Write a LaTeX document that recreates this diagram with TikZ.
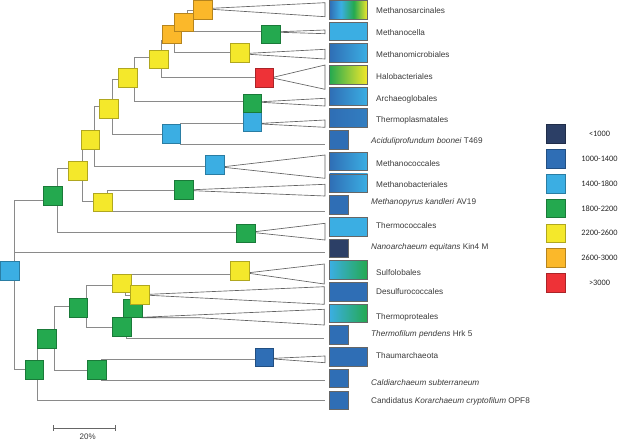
\documentclass[tikz,border=0pt]{standalone}
\usepackage{fontspec}
\setmainfont{Liberation Sans}
\newfontfamily\legfont{Carlito}
\definecolor{cNavy}{HTML}{2C3F66}
\definecolor{cBlue}{HTML}{2F6EB5}
\definecolor{cLight}{HTML}{3BAEE3}
\definecolor{cGreen}{HTML}{24A94F}
\definecolor{cYellow}{HTML}{F4E82B}
\definecolor{cOrange}{HTML}{FBB82A}
\definecolor{cRed}{HTML}{EE3237}
\definecolor{lineg}{HTML}{8A8A8A}
\definecolor{trig}{HTML}{626262}
\definecolor{txtc}{HTML}{3A3A3A}
\pgfdeclarehorizontalshading{sarcshade}{100bp}{color(0bp)=(cBlue); color(25bp)=(cBlue); color(40bp)=(cLight); color(57bp)=(cGreen); color(75bp)=(cYellow); color(100bp)=(cYellow)}
\begin{document}
\begin{tikzpicture}[x=1pt,y=-1pt,
  tl/.style={draw=lineg, line width=0.75pt},
  tri/.style={draw=trig, line width=0.65pt, fill=white, line join=miter},
  sq/.style={draw=#1!72!black, fill=#1, line width=0.6pt, minimum size=18.6pt, inner sep=0pt, outer sep=0pt, rectangle},
  barfull/.style={draw=black!60, line width=0.5pt, minimum height=18.6pt, minimum width=38pt, inner sep=0pt, outer sep=0pt, anchor=west, rectangle},
  barhalf/.style={draw=black!60, line width=0.5pt, minimum height=18.6pt, minimum width=19pt, inner sep=0pt, outer sep=0pt, anchor=west, rectangle},
  lab/.style={anchor=base west, inner sep=0pt, font=\fontsize{8.2}{9}\selectfont, text=txtc},
  leg/.style={anchor=center, inner sep=0pt, font=\legfont\fontsize{8.3}{9}\selectfont, text=black!85}]
\useasboundingbox (0,0) rectangle (626,442);
% ---------- tree points ----------
\coordinate (pRoot) at (14.3,270.5);
\coordinate (pG1) at (57.7,200.3);
\coordinate (pY5) at (82.7,168.3);
\coordinate (pY4) at (94.3,140);
\coordinate (pY6) at (107.3,201);
\coordinate (pY3) at (112.7,106.7);
\coordinate (pY2) at (134.3,79);
\coordinate (pB1) at (180,134);
\coordinate (pY1) at (161.7,57.3);
\coordinate (pO3) at (174.3,40);
\coordinate (pO2) at (187.7,22);
\coordinate (pO1) at (202.5,10);
\coordinate (pCella) at (271,31.7);
\coordinate (pMicro) at (239.5,52.7);
\coordinate (pHalo) at (264.3,77.7);
\coordinate (pArch) at (252.2,101.7);
\coordinate (pTpl) at (252.2,123.3);
\coordinate (lAcid) at (325,144);
\coordinate (pCocc) at (214.8,166.7);
\coordinate (pBact) at (183.8,190.7);
\coordinate (lPyrus) at (325,211);
\coordinate (pTcoc) at (245.8,232.3);
\coordinate (lNano) at (325,252.7);
\coordinate (pG4) at (37.7,369.3);
\coordinate (pG5) at (54.3,338.7);
\coordinate (lKor) at (325,400.3);
\coordinate (pG7) at (86.7,306);
\coordinate (pG6) at (101,370);
\coordinate (pThaum) at (264.3,359);
\coordinate (lCald) at (325,380);
\coordinate (pY7) at (125.7,285);
\coordinate (pG8) at (126.7,327.7);
\coordinate (pSulfo) at (239.5,274);
\coordinate (pDesul) at (140,295);
\coordinate (pProt) at (132.5,317.3);
\coordinate (lTfil) at (324.3,338.3);
% ---------- branches ----------
\draw[tl] (pRoot) |- (pG1);
\draw[tl] (pRoot) |- (lNano);
\draw[tl] (pRoot) |- (pG4);
\draw[tl] (pG1) |- (pY5);
\draw[tl] (pG1) |- (pTcoc);
\draw[tl] (pY5) |- (pY4);
\draw[tl] (pY5) |- (pY6);
\draw[tl] (pY4) |- (pY3);
\draw[tl] (pY4) |- (pCocc);
\draw[tl] (pY3) |- (pY2);
\draw[tl] (pY3) |- (pB1);
\draw[tl] (pY2) |- (pY1);
\draw[tl] (pY2) |- (pArch);
\draw[tl] (pY1) |- (pO3);
\draw[tl] (pY1) |- (pHalo);
\draw[tl] (pO3) |- (pO2);
\draw[tl] (pO3) |- (pMicro);
\draw[tl] (pO2) |- (pO1);
\draw[tl] (pO2) |- (pCella);
\draw[tl] (pB1) |- (pTpl);
\draw[tl] (pB1) |- (lAcid);
\draw[tl] (pY6) |- (pBact);
\draw[tl] (pY6) |- (lPyrus);
\draw[tl] (pG4) |- (pG5);
\draw[tl] (pG4) |- (lKor);
\draw[tl] (pG5) |- (pG7);
\draw[tl] (pG5) |- (pG6);
\draw[tl] (pG6) |- (pThaum);
\draw[tl] (pG6) |- (lCald);
\draw[tl] (pG7) |- (pY7);
\draw[tl] (pG7) |- (pG8);
\draw[tl] (pY7) |- (pSulfo);
\draw[tl] (pY7) |- (pDesul);
\draw[tl] (pG8) |- (pProt);
\draw[tl] (pG8) |- (lTfil);
% ---------- collapsed clades ----------
\draw[tri] (211.7,8.3) -- (325,2.7) -- (325,16.7) -- (211.7,9.3) -- cycle;
\draw[tri] (280,31.7) -- (325,30) -- (325,33.7) -- (280,32.3) -- cycle;
\draw[tri] (249,53.3) -- (325,49.3) -- (325,59) -- (249,54.3) -- cycle;
\draw[tri] (273.7,77.2) -- (325,65) -- (325,89.3) -- (273.7,78.2) -- cycle;
\draw[tri] (261.7,101.7) -- (325,98.3) -- (325,106) -- (261.7,102.3) -- cycle;
\draw[tri] (261.7,123.3) -- (325,120) -- (325,127.3) -- (261.7,124) -- cycle;
\draw[tri] (224,166.7) -- (325,155) -- (325,178.3) -- (224,167.3) -- cycle;
\draw[tri] (193.3,189.7) -- (325,184.3) -- (325,196) -- (193.3,190.7) -- cycle;
\draw[tri] (255,231.7) -- (325,223.3) -- (325,240) -- (255,232.7) -- cycle;
\draw[tri] (249,272.7) -- (324.3,264) -- (324.3,284) -- (249,273.3) -- cycle;
\draw[tri] (149.3,294.3) -- (324.3,286.7) -- (324.3,304.3) -- (149.3,295.3) -- cycle;
\draw[tri] (141.7,317.3) -- (324.3,309.3) -- (324.3,325) -- (200,317.8) -- (141.7,317.8) -- cycle;
\draw[tri] (273.7,358.3) -- (325,356) -- (325,362.7) -- (273.7,359) -- cycle;
% ---------- node squares ----------
\node[sq=cLight] (sRoot) at (9.5,270.5) {};
\node[sq=cGreen] (sG1) at (53,195.8) {};
\node[sq=cYellow] (sY5) at (77.8,171) {};
\node[sq=cYellow] (sY4) at (90.3,140) {};
\node[sq=cYellow] (sY3) at (109,108.8) {};
\node[sq=cYellow] (sY2) at (127.7,77.8) {};
\node[sq=cYellow] (sY1) at (158.8,59.2) {};
\node[sq=cOrange] (sO3) at (171.5,34.3) {};
\node[sq=cOrange] (sO2) at (183.8,22.2) {};
\node[sq=cOrange] (sO1) at (202.5,9.5) {};
\node[sq=cGreen] (sCella) at (271,34.2) {};
\node[sq=cYellow] (sMicro) at (239.5,52.8) {};
\node[sq=cRed] (sHalo) at (264.3,77.7) {};
\node[sq=cLight] (sTpl) at (252.2,121.7) {};
\node[sq=cGreen] (sArch) at (252.2,103.3) {};
\node[sq=cLight] (sB1) at (171.3,133.8) {};
\node[sq=cLight] (sCocc) at (214.8,165) {};
\node[sq=cGreen] (sBact) at (183.8,189.7) {};
\node[sq=cYellow] (sY6) at (102.8,202.2) {};
\node[sq=cGreen] (sTcoc) at (245.8,233.3) {};
\node[sq=cGreen] (sG4) at (34.3,369.7) {};
\node[sq=cGreen] (sG5) at (47,338.7) {};
\node[sq=cGreen] (sG6) at (96.7,369.7) {};
\node[sq=cGreen] (sG7) at (78.3,307.7) {};
\node[sq=cGreen] (sProt) at (132.5,308.2) {};
\node[sq=cYellow] (sY7) at (121.7,283.2) {};
\node[sq=cYellow] (sDesul) at (140,295) {};
\node[sq=cGreen] (sG8) at (121.7,326.7) {};
\node[sq=cYellow] (sSulfo) at (239.5,270.8) {};
\node[sq=cBlue] (sThaum) at (264.3,357.2) {};
% ---------- genome size bars ----------
\node[barfull, shade, shading=sarcshade] (b1) at (329.5,9.5) {};
\node[barfull, fill=cLight] (b2) at (329.5,31.2) {};
\node[barfull, left color=cBlue, right color=cLight] (b3) at (329.5,52.9) {};
\node[barfull, left color=cGreen, right color=cYellow] (b4) at (329.5,74.6) {};
\node[barfull, left color=cBlue, right color=cLight] (b5) at (329.5,96.3) {};
\node[barfull, left color=cBlue, right color=cBlue!75!cLight] (b6) at (329.5,118) {};
\node[barhalf, fill=cBlue] (b7) at (329.5,139.7) {};
\node[barfull, left color=cBlue, right color=cLight] (b8) at (329.5,161.4) {};
\node[barfull, left color=cBlue, right color=cLight] (b9) at (329.5,183.1) {};
\node[barhalf, fill=cBlue] (b10) at (329.5,204.8) {};
\node[barfull, fill=cLight] (b11) at (329.5,226.5) {};
\node[barhalf, fill=cNavy] (b12) at (329.5,248.2) {};
\node[barfull, left color=cLight, right color=cGreen] (b13) at (329.5,269.9) {};
\node[barfull, fill=cBlue] (b14) at (329.5,291.6) {};
\node[barfull, left color=cLight, right color=cGreen] (b15) at (329.5,313.3) {};
\node[barhalf, fill=cBlue] (b16) at (329.5,335) {};
\node[barfull, fill=cBlue] (b17) at (329.5,356.7) {};
\node[barhalf, fill=cBlue] (b18) at (329.5,378.4) {};
\node[barhalf, fill=cBlue] (b19) at (329.5,400.1) {};
% ---------- labels ----------
\node[lab] (t1) at (376,13.7) {Methanosarcinales};
\node[lab] (t2) at (376,35.7) {Methanocella};
\node[lab] (t3) at (376,57.3) {Methanomicrobiales};
\node[lab] (t4) at (376,79) {Halobacteriales};
\node[lab] (t5) at (376,101.3) {Archaeoglobales};
\node[lab] (t6) at (376,122.3) {Thermoplasmatales};
\node[lab] (t7) at (371,143.3) {\textit{Aciduliprofundum boonei} T469};
\node[lab] (t8) at (376,166) {Methanococcales};
\node[lab] (t9) at (376,187.3) {Methanobacteriales};
\node[lab] (t10) at (371,204.3) {\textit{Methanopyrus kandleri} AV19};
\node[lab] (t11) at (376,228) {Thermococcales};
\node[lab] (t12) at (371,249.3) {\textit{Nanoarchaeum equitans} Kin4 M};
\node[lab] (t13) at (376,275.3) {Sulfolobales};
\node[lab] (t14) at (376,294.3) {Desulfurococcales};
\node[lab] (t15) at (376,319) {Thermoproteales};
\node[lab] (t16) at (371,336.3) {\textit{Thermofilum pendens} Hrk 5};
\node[lab] (t17) at (376,358.3) {Thaumarchaeota};
\node[lab] (t18) at (371,385.7) {\textit{Caldiarchaeum subterraneum}};
\node[lab] (t19) at (371,403.3) {Candidatus \textit{Korarchaeum cryptofilum} OPF8};
% ---------- legend ----------
\node[sq=cNavy] (k1) at (555.5,134) {};
\node[sq=cBlue] (k2) at (555.5,158.8) {};
\node[sq=cLight] (k3) at (555.5,183.6) {};
\node[sq=cGreen] (k4) at (555.5,208.4) {};
\node[sq=cYellow] (k5) at (555.5,233.2) {};
\node[sq=cOrange] (k6) at (555.5,258) {};
\node[sq=cRed] (k7) at (555.5,282.8) {};
\node[leg] (kt1) at (599.5,134) {<1000};
\node[leg] (kt2) at (599.5,158.8) {1000-1400};
\node[leg] (kt3) at (599.5,183.6) {1400-1800};
\node[leg] (kt4) at (599.5,208.4) {1800-2200};
\node[leg] (kt5) at (599.5,233.2) {2200-2600};
\node[leg] (kt6) at (599.5,258) {2600-3000};
\node[leg] (kt7) at (599.5,282.8) {>3000};
% ---------- scale bar ----------
\coordinate (sbL) at (53.3,428.3);
\coordinate (sbR) at (115.7,428.3);
\draw[draw=black!60, line width=0.7pt] (sbL) -- (sbR);
\draw[draw=black!60, line width=0.7pt] ([yshift=3pt]sbL) -- ([yshift=-3pt]sbL);
\draw[draw=black!60, line width=0.7pt] ([yshift=3pt]sbR) -- ([yshift=-3pt]sbR);
\node[anchor=base, inner sep=0pt, font=\fontsize{8}{9}\selectfont, text=txtc] (sbt) at (87.7,439.5) {20\%};
\end{tikzpicture}
\end{document}
